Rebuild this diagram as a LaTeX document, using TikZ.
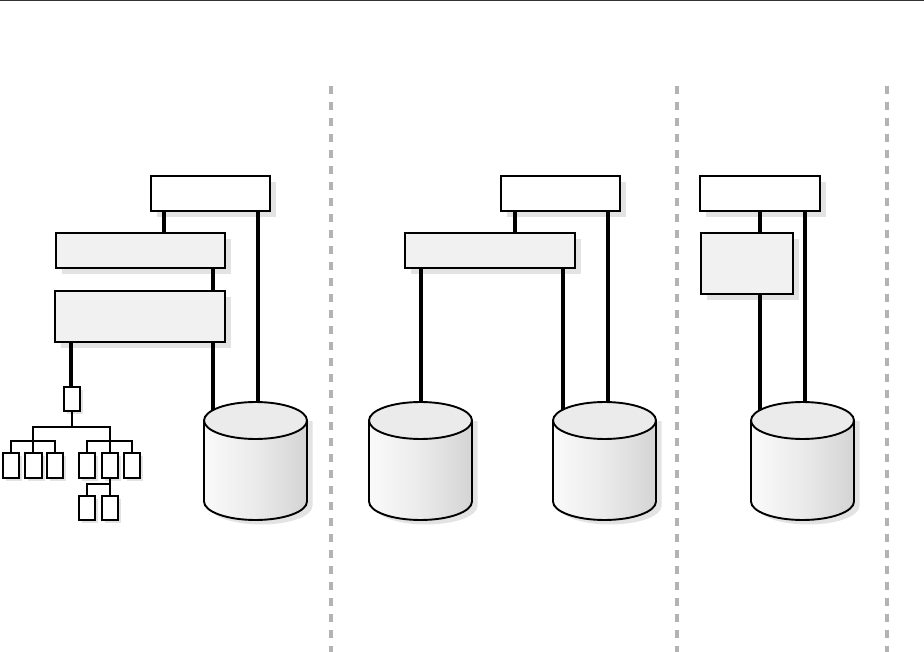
\documentclass[tikz,border=0pt]{standalone}
\usetikzlibrary{calc}
\definecolor{shadowgray}{HTML}{E3E3E3}
\definecolor{panelgray}{HTML}{F1F1F1}
\definecolor{sepgray}{HTML}{B3B3B3}
\newcommand{\bx}[6]{%name x1 y1 x2 y2 style
  \fill[shadowgray] ({#2+6},{#3+6}) rectangle ({#4+6},{#5+6});
  \node[#6,minimum width={(#4-#2)*1pt},minimum height={(#5-#3)*1pt}] (#1) at ({(#2+#4)/2},{(#3+#5)/2}) {};}
\newcommand{\dbnode}[2]{%name, left x
  \node[dbslot] (#1) at ({#2+51.5},461) {};}
\newcommand{\dbdraw}[1]{%
  \begin{scope}[shift={(#1.west)},yshift=0pt]
    \fill[shadowgray] (5,-40) -- (108.5,-40) -- (108.5,45) arc[start angle=0,end angle=-180,x radius=51.5,y radius=-18.5] -- cycle;
    \path[left color=black!2,right color=black!17,middle color=black!8,draw=black,line width=1.9pt]
      (0,-40.5) -- (0,40.5) arc[start angle=180,end angle=0,x radius=51.5,y radius=18.5] -- (103,-40.5) -- cycle;
    \draw[line width=1.9pt,fill=black!8] (51.5,-40.5) ellipse[x radius=51.5,y radius=18.5];
  \end{scope}}
\tikzset{
  plain/.style={draw=black,line width=1.9pt,fill=white,inner sep=0pt,outer sep=0pt},
  panel/.style={plain,fill=panelgray},
  leaf/.style={draw=black,line width=1.6pt,fill=white,inner sep=0pt,outer sep=0pt},
  dbslot/.style={inner sep=0pt,outer sep=0pt,minimum width=103pt,minimum height=118pt},
  conn/.style={draw=black,line width=4pt},
  thin conn/.style={draw=black,line width=1.9pt,line cap=rect},
  sep/.style={draw=sepgray,line width=4pt,dash pattern=on 8pt off 8pt},
}
\begin{document}
\begin{tikzpicture}[x=1pt,y=-1pt]
\useasboundingbox (0,0) rectangle (924,652);
\draw[black!80,line width=1pt] (0,0.5) -- (924,0.5);
\coordinate (s1t) at (331,86); \coordinate (s1b) at (331,652);
\coordinate (s2t) at (677,86); \coordinate (s2b) at (677,652);
\coordinate (s3t) at (887,86); \coordinate (s3b) at (887,652);
\draw[sep] (s1t) -- (s1b);
\draw[sep] (s2t) -- (s2b);
\draw[sep] (s3t) -- (s3b);
% cylinders slots
\dbnode{dba}{204}
\dbnode{dbb}{369}
\dbnode{dbc}{553}
\dbnode{dbd}{751}
% boxes
\bx{a1}{151}{176}{270}{211}{plain}
\bx{b1}{56}{233}{225}{268}{panel}
\bx{c1}{55}{291}{225}{342}{panel}
\bx{a2}{501}{176}{620}{211}{plain}
\bx{b2}{405}{233}{575}{268}{panel}
\bx{a3}{700}{176}{820}{211}{plain}
\bx{b3}{701}{233}{793}{294}{panel}
% connectors section 1
\draw[conn] (164,0 |- a1.south) -- (164,0 |- b1.north);
\draw[conn] (213,0 |- b1.south) -- (213,0 |- c1.north);
\draw[conn] (258,0 |- a1.south) -- ($(258,0 |- dba.north)+(0,1)$);
\draw[conn] (213,0 |- c1.south) -- ($(213,0 |- dba.north)+(0,12)$);
% section 2
\draw[conn] (515,0 |- a2.south) -- (515,0 |- b2.north);
\draw[conn] (608,0 |- a2.south) -- ($(608,0 |- dbc.north)+(0,1)$);
\draw[conn] (421,0 |- b2.south) -- ($(421,0 |- dbb.north)+(0,1)$);
\draw[conn] (563,0 |- b2.south) -- ($(563,0 |- dbc.north)+(0,12)$);
% section 3
\draw[conn] (760,0 |- a3.south) -- (760,0 |- b3.north);
\draw[conn] (805,0 |- a3.south) -- ($(805,0 |- dbd.north)+(0,1)$);
\draw[conn] (760,0 |- b3.south) -- ($(760,0 |- dbd.north)+(0,12)$);
% cylinders
\dbdraw{dba}
\dbdraw{dbb}
\dbdraw{dbc}
\dbdraw{dbd}
% tree
\newcommand{\lf}[5]{\fill[shadowgray] ({#2+2.5},{#3+2.5}) rectangle ({#4+2.5},{#5+2.5});
  \node[leaf,minimum width={(#4-#2)*1pt},minimum height={(#5-#3)*1pt}] (#1) at ({(#2+#4)/2},{(#3+#5)/2}) {};}
\lf{r}{64}{387}{80}{411}
\lf{l1}{3}{453}{19}{478}
\lf{l2}{25}{453}{42}{478}
\lf{l3}{47}{453}{63}{478}
\lf{l4}{79}{453}{95}{478}
\lf{l5}{102}{453}{118}{478}
\lf{l6}{124}{453}{140}{478}
\lf{m1}{79}{496}{95}{520}
\lf{m2}{102}{496}{118}{520}
\draw[conn] (71,0 |- c1.south) -- (71,0 |- r.north);
\coordinate (bus) at (72,427);
\coordinate (busl) at (33,427);
\coordinate (busr) at (110,427);
\coordinate (subl) at (33,441);
\coordinate (subr) at (110,441);
\coordinate (lowbus) at (110,484);
\draw[thin conn] (72,0 |- r.south) -- (bus);
\draw[thin conn] (busl) -- (busr);
\draw[thin conn] (busl) -- (33,0 |- l2.north);
\draw[thin conn] (busr) -- (l5.north);
\draw[thin conn] (l1.north) |- (subl) -| (l3.north);
\draw[thin conn] (l4.north) |- (subr) -| (l6.north);
\draw[thin conn] (l5.south) -- (m2.north);
\draw[thin conn] (m1.north) |- (lowbus) -- (110,0 |- l5.south);
\end{tikzpicture}
\end{document}
